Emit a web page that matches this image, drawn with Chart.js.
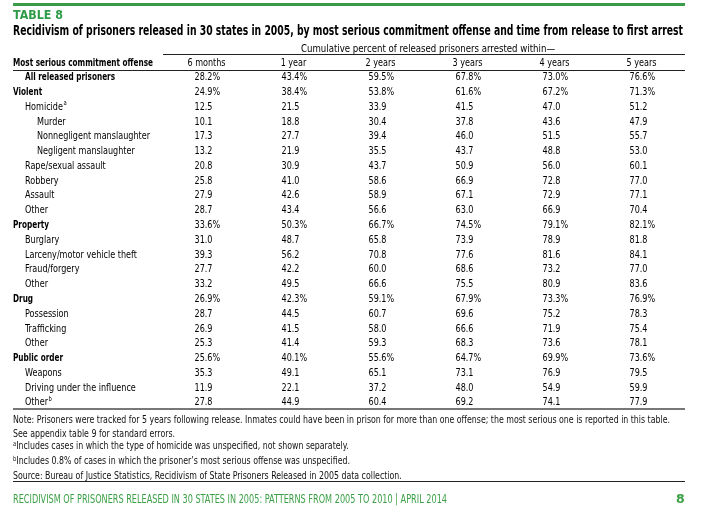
<!DOCTYPE html>
<html>
<head>
<meta charset="utf-8">
<script src="https://cdn.jsdelivr.net/npm/chart.js@4.4.1/dist/chart.umd.min.js"></script>
<style>
  body { margin: 0; background: #fff; }
  #page { position: relative; width: 707px; height: 515px; overflow: hidden;
          font-family: "DejaVu Sans Condensed", "Liberation Sans", sans-serif; color: #111; }
  #tableChart { position: absolute; left: 0; top: 0; }
  .abs { position: absolute; white-space: nowrap; transform-origin: 0 0; }
  .bar { left: 13px; top: 3px; width: 672px; height: 3px; background: #3a9c4a; }
  .tag { left: 13px; top: 8px; font: bold 12.5px "DejaVu Sans", sans-serif; color: #2e9b48; line-height: 14px; }
  .title { left: 13px; top: 22px; font-weight: bold; font-size: 13.5px; line-height: 16px; color: #000; }
  .note { left: 13px; font-size: 10.5px; line-height: 12px; }
  .note sup { font-size: 7px; vertical-align: 3px; line-height: 0; }
  .foot { left: 13px; top: 492px; font-size: 12.5px; line-height: 14px; color: #3a9f45; }
  .pageno { left: 676px; top: 492px; font: bold 12.5px "DejaVu Sans", sans-serif; color: #3a9f45; line-height: 14px; }
</style>
</head>
<body>
<div id="page">
  <canvas id="tableChart" width="707" height="515"></canvas>
  <div class="abs bar"></div>
  <div class="abs tag" data-w="50">TABLE 8</div>
  <div class="abs title" data-w="670">Recidivism of prisoners released in 30 states in 2005, by most serious commitment offense and time from release to first arrest</div>
  <div class="abs note" id="note1" style="top:413px">Note: Prisoners were tracked for 5 years following release. Inmates could have been in prison for more than one offense; the most serious one is reported in this table.</div>
  <div class="abs note" style="top:427px">See appendix table 9 for standard errors.</div>
  <div class="abs note" style="top:439px"><sup>a</sup>Includes cases in which the type of homicide was unspecified, not shown separately.</div>
  <div class="abs note" style="top:454px"><sup>b</sup>Includes 0.8% of cases in which the prisoner’s most serious offense was unspecified.</div>
  <div class="abs note" style="top:469px">Source: Bureau of Justice Statistics, Recidivism of State Prisoners Released in 2005 data collection.</div>
  <div class="abs foot" data-w="434">RECIDIVISM OF PRISONERS RELEASED IN 30 STATES IN 2005: PATTERNS FROM 2005 TO 2010 | APRIL 2014</div>
  <div class="abs pageno">8</div>
</div>

<script>
const FONT = '"DejaVu Sans Condensed", "Liberation Sans", sans-serif';

const groupTitle = "Cumulative percent of released prisoners arrested within\u2014";
const stubTitle = "Most serious commitment offense";
const columns = ["6 months", "1 year", "2 years", "3 years", "4 years", "5 years"];

const rowLabels = [
    "All released prisoners", "Violent", "Homicide", "Murder", "Nonnegligent manslaughter",
    "Negligent manslaughter", "Rape/sexual assault", "Robbery", "Assault", "Other",
    "Property", "Burglary", "Larceny/motor vehicle theft", "Fraud/forgery", "Other",
    "Drug", "Possession", "Trafficking", "Other",
    "Public order", "Weapons", "Driving under the influence", "Other"
];
// indent level of each row (0 = offense group)
const rowLevel = [1, 0, 1, 2, 2, 2, 1, 1, 1, 1, 0, 1, 1, 1, 1, 0, 1, 1, 1, 0, 1, 1, 1];
// bold rows are totals, shown with a % sign
const rowBold = [1, 1, 0, 0, 0, 0, 0, 0, 0, 0, 1, 0, 0, 0, 0, 1, 0, 0, 0, 1, 0, 0, 0];
const rowNote = ["", "", "a", "", "", "", "", "", "", "", "", "", "", "", "", "", "", "", "", "", "", "", "b"];

const months6 = [28.2, 24.9, 12.5, 10.1, 17.3, 13.2, 20.8, 25.8, 27.9, 28.7, 33.6, 31.0, 39.3, 27.7, 33.2, 26.9, 28.7, 26.9, 25.3, 25.6, 35.3, 11.9, 27.8];
const year1 = [43.4, 38.4, 21.5, 18.8, 27.7, 21.9, 30.9, 41.0, 42.6, 43.4, 50.3, 48.7, 56.2, 42.2, 49.5, 42.3, 44.5, 41.5, 41.4, 40.1, 49.1, 22.1, 44.9];
const year2 = [59.5, 53.8, 33.9, 30.4, 39.4, 35.5, 43.7, 58.6, 58.9, 56.6, 66.7, 65.8, 70.8, 60.0, 66.6, 59.1, 60.7, 58.0, 59.3, 55.6, 65.1, 37.2, 60.4];
const year3 = [67.8, 61.6, 41.5, 37.8, 46.0, 43.7, 50.9, 66.9, 67.1, 63.0, 74.5, 73.9, 77.6, 68.6, 75.5, 67.9, 69.6, 66.6, 68.3, 64.7, 73.1, 48.0, 69.2];
const year4 = [73.0, 67.2, 47.0, 43.6, 51.5, 48.8, 56.0, 72.8, 72.9, 66.9, 79.1, 78.9, 81.6, 73.2, 80.9, 73.3, 75.2, 71.9, 73.6, 69.9, 76.9, 54.9, 74.1];
const year5 = [76.6, 71.3, 51.2, 47.9, 55.7, 53.0, 60.1, 77.0, 77.1, 70.4, 82.1, 81.8, 84.1, 77.0, 83.6, 76.9, 78.3, 75.4, 78.1, 73.6, 79.5, 59.9, 77.9];

const series = [months6, year1, year2, year3, year4, year5];

// one dataset per column, one point per row; the point carries the cell value
const datasets = series.map(function (vals, c) {
    return {
        label: columns[c],
        data: vals.map(function (v, r) { return { x: c + 1, y: r, v: v }; }),
        pointRadius: 0,
        pointHoverRadius: 0
    };
});

// squeeze text horizontally, the source uses a condensed face
function squeezed(ctx, txt, x, y, sx) {
    ctx.save();
    ctx.translate(x, y);
    ctx.scale(sx, 1);
    ctx.fillText(txt, 0, 0);
    ctx.restore();
}

const tableText = {
    id: 'tableText',
    afterDatasetsDraw(chart) {
        const ctx = chart.ctx;
        const xs = chart.scales.x;
        const ys = chart.scales.y;
        const area = chart.chartArea;
        const left = 13;
        const reg = '10.8px ' + FONT;
        const bold = 'bold 10.8px ' + FONT;

        ctx.save();
        ctx.textBaseline = 'middle';
        ctx.fillStyle = '#000';

        ctx.font = reg;
        const sxReg = 113 / ctx.measureText("Nonnegligent manslaughter").width;
        const sxGroup = 254 / ctx.measureText(groupTitle).width;
        ctx.font = bold;
        const sxBold = 140 / ctx.measureText(stubTitle).width;

        // rules
        ctx.strokeStyle = '#222';
        ctx.lineWidth = 1;
        ctx.beginPath();
        ctx.moveTo(area.left, area.top - 15.5); ctx.lineTo(area.right, area.top - 15.5);
        ctx.moveTo(left, area.top + 0.5); ctx.lineTo(area.right, area.top + 0.5);
        ctx.moveTo(left, area.bottom + 71.5); ctx.lineTo(area.right, area.bottom + 71.5);
        ctx.stroke();
        ctx.strokeStyle = '#777';
        ctx.lineWidth = 2;
        ctx.beginPath();
        ctx.moveTo(left, area.bottom - 1); ctx.lineTo(area.right, area.bottom - 1);
        ctx.stroke();

        // headers
        ctx.font = reg;
        ctx.textAlign = 'center';
        squeezed(ctx, groupTitle, 428, area.top - 21, sxGroup);
        columns.forEach(function (c, i) {
            squeezed(ctx, c, xs.getPixelForValue(i + 1), area.top - 7, sxReg);
        });
        ctx.textAlign = 'left';
        ctx.font = bold;
        squeezed(ctx, stubTitle, left, area.top - 7, sxBold);

        // row labels
        rowLabels.forEach(function (lab, i) {
            const py = ys.getPixelForValue(i);
            const px = left + rowLevel[i] * 12;
            const sx = rowBold[i] ? sxBold : sxReg;
            ctx.font = rowBold[i] ? bold : reg;
            squeezed(ctx, lab, px, py, sx);
            if (rowNote[i]) {
                const w = ctx.measureText(lab).width * sx;
                ctx.font = '7px ' + FONT;
                squeezed(ctx, rowNote[i], px + w + 0.5, py - 3.5, sxReg);
            }
        });

        // cell values
        ctx.font = reg;
        chart.data.datasets.forEach(function (ds, di) {
            chart.getDatasetMeta(di).data.forEach(function (pt, i) {
                const cell = ds.data[i];
                const txt = cell.v.toFixed(1) + (rowBold[cell.y] ? '%' : '');
                squeezed(ctx, txt, pt.x - 12, pt.y, sxReg);
            });
        });
        ctx.restore();
    }
};

new Chart(document.getElementById('tableChart').getContext('2d'), {
    type: 'scatter',
    data: { datasets: datasets },
    options: {
        responsive: false,
        animation: false,
        events: [],
        layout: { padding: { left: 163, right: 22, top: 70, bottom: 105 } },
        plugins: { legend: { display: false }, tooltip: { enabled: false } },
        scales: {
            x: { type: 'linear', min: 0.5, max: 6.5, display: false },
            y: { type: 'linear', min: -0.5, max: 22.5, reverse: true, display: false }
        }
    },
    plugins: [tableText]
});

// fit the html lines to the widths they have in the source
function fitWidth(el, target) {
    const w = el.getBoundingClientRect().width;
    el.style.transform = 'scaleX(' + (target / w) + ')';
    return target / w;
}
document.querySelectorAll('[data-w]').forEach(function (el) {
    fitWidth(el, parseFloat(el.dataset.w));
});
const noteScale = fitWidth(document.getElementById('note1'), 657);
document.querySelectorAll('.note').forEach(function (el) {
    el.style.transform = 'scaleX(' + noteScale + ')';
});
</script>
</body>
</html>
